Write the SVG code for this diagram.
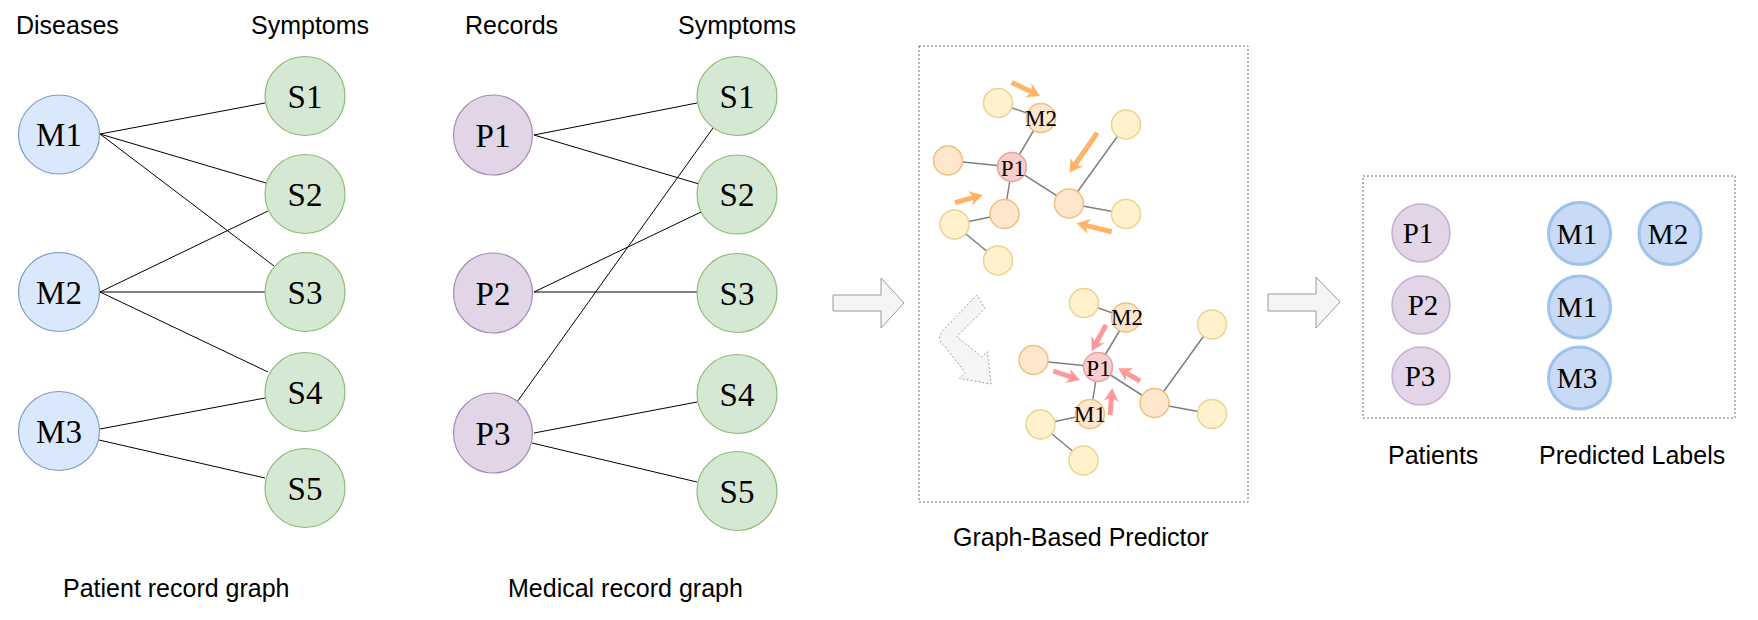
<svg xmlns="http://www.w3.org/2000/svg" width="1758" height="620" viewBox="0 0 1758 620">
<defs>
<style>
.sans{font-family:"Liberation Sans",Arial,sans-serif;font-size:25px;fill:#000}
.serif{font-family:"Liberation Serif","Times New Roman",serif;font-size:33px;text-anchor:middle;fill:#000}
.sm{font-family:"Liberation Serif","Times New Roman",serif;font-size:23px;text-anchor:middle;fill:#000}
.rt{font-family:"Liberation Serif","Times New Roman",serif;font-size:29px;text-anchor:middle;fill:#000}
.dis{fill:#DAE8FC;stroke:#7C9CCB;stroke-width:1.2}
.sym{fill:#D5E8D4;stroke:#8FBC73;stroke-width:1.2}
.rec{fill:#E1D5E7;stroke:#A88BB8;stroke-width:1.2}
.rp{fill:#E1D5E7;stroke:#C4AED1;stroke-width:1.5}
.rm{fill:#C8DAF5;stroke:#9EC3EA;stroke-width:3}
.edge{stroke:#000;stroke-width:1;fill:none}
.gedge{stroke:#808080;stroke-width:1.5;fill:none}
.yel{fill:#FFF2CC;stroke:#EBD391;stroke-width:1.5}
.org{fill:#FFE6CC;stroke:#EEC17E;stroke-width:1.5}
.pnk{fill:#F8CECC;stroke:#E3A5A3;stroke-width:1.5}
.box{fill:none;stroke:#6E6E6E;stroke-width:1;stroke-dasharray:2 2}
.blk{fill:#F5F5F5;stroke:#9A9A9A;stroke-width:1}
.blkd{fill:#F5F5F5;stroke:#A0A0A0;stroke-width:1;stroke-dasharray:2 2}
.oarr{stroke:#FFB366;stroke-width:5;fill:none;marker-end:url(#oh)}
.parr{stroke:#FF9999;stroke-width:5;fill:none;marker-end:url(#ph)}
</style>
<marker id="oh" viewBox="-5 -8 15 16" refX="0" refY="0" markerWidth="15" markerHeight="16" markerUnits="userSpaceOnUse" orient="auto">
<path d="M9,0 L-4,-7.5 L0,0 L-4,7.5 Z" fill="#FFB366"/>
</marker>
<marker id="ph" viewBox="-5 -8 15 16" refX="0" refY="0" markerWidth="15" markerHeight="16" markerUnits="userSpaceOnUse" orient="auto">
<path d="M9,0 L-4,-7.5 L0,0 L-4,7.5 Z" fill="#FF9999"/>
</marker>
</defs>
<rect width="1758" height="620" fill="#FFFFFF"/>

<!-- titles -->
<text class="sans" x="16" y="34">Diseases</text>
<text class="sans" x="251" y="34">Symptoms</text>
<text class="sans" x="465" y="34">Records</text>
<text class="sans" x="678" y="34">Symptoms</text>
<text class="sans" x="63" y="597">Patient record graph</text>
<text class="sans" x="508" y="597">Medical record graph</text>
<text class="sans" x="953" y="546">Graph-Based Predictor</text>
<text class="sans" x="1388" y="464">Patients</text>
<text class="sans" x="1539" y="464">Predicted Labels</text>

<!-- connectors -->
<g id="connectors">
<line class="edge" x1="100" y1="134" x2="265" y2="103"/>
<line class="edge" x1="100" y1="134" x2="266" y2="183"/>
<line class="edge" x1="100" y1="134" x2="274" y2="266"/>
<line class="edge" x1="100" y1="292" x2="268" y2="211"/>
<line class="edge" x1="100" y1="292" x2="265" y2="292"/>
<line class="edge" x1="100" y1="292" x2="268" y2="372"/>
<line class="edge" x1="100" y1="429" x2="265" y2="398"/>
<line class="edge" x1="99" y1="440" x2="265" y2="478"/>

<line class="edge" x1="534" y1="135" x2="697" y2="103"/>
<line class="edge" x1="534" y1="135" x2="699" y2="184"/>
<line class="edge" x1="713" y1="128" x2="517" y2="402"/>
<line class="edge" x1="534" y1="292" x2="701" y2="212"/>
<line class="edge" x1="534" y1="292" x2="697" y2="292"/>
<line class="edge" x1="534" y1="433" x2="697" y2="402"/>
<line class="edge" x1="532" y1="443" x2="697" y2="482"/>

<g id="top-graph-edges">
<line class="gedge" x1="998" y1="103" x2="1041" y2="118"/>
<line class="gedge" x1="1041" y1="118" x2="1012" y2="167"/>
<line class="gedge" x1="948" y1="160.5" x2="1012" y2="167"/>
<line class="gedge" x1="1012" y1="167" x2="1069" y2="203.5"/>
<line class="gedge" x1="1069" y1="203.5" x2="1126" y2="124.5"/>
<line class="gedge" x1="1069" y1="203.5" x2="1126" y2="214"/>
<line class="gedge" x1="1012" y1="167" x2="1004.5" y2="214"/>
<line class="gedge" x1="1004.5" y1="214" x2="954.5" y2="224.5"/>
<line class="gedge" x1="954.5" y1="224.5" x2="998" y2="260.5"/>
</g>
<g id="bottom-graph-edges" transform="translate(86,200)">
<line class="gedge" x1="998" y1="103" x2="1041" y2="118"/>
<line class="gedge" x1="1041" y1="118" x2="1012" y2="167"/>
<line class="gedge" x1="948" y1="160.5" x2="1012" y2="167"/>
<line class="gedge" x1="1012" y1="167" x2="1069" y2="203.5"/>
<line class="gedge" x1="1069" y1="203.5" x2="1126" y2="124.5"/>
<line class="gedge" x1="1069" y1="203.5" x2="1126" y2="214"/>
<line class="gedge" x1="1012" y1="167" x2="1004.5" y2="214"/>
<line class="gedge" x1="1004.5" y1="214" x2="954.5" y2="224.5"/>
<line class="gedge" x1="954.5" y1="224.5" x2="998" y2="260.5"/>
</g>

<!-- big flow arrows -->
<path id="arrow-1" class="blk" d="M833,295 L881,295 L881,278 L904,303 L881,328 L881,311 L833,311 Z"/>
<path id="arrow-2" class="blk" d="M1268,294 L1316,294 L1316,277 L1340,302 L1316,328 L1316,311 L1268,311 Z"/>
<path id="arrow-curve" class="blkd" d="M976.7,295 L943.3,330 Q935,338 945,346.7 L965,372.3 L959.3,378.3 L991,384 L987.3,351.7 L981.7,356.7 L956.7,336.7 L985,308.3 Z"/>

<!-- message arrows -->
<line class="oarr" x1="1011.7" y1="82.5" x2="1031.9" y2="92.1"/>
<line class="oarr" x1="1097.3" y1="132.7" x2="1074.6" y2="165.2"/>
<line class="oarr" x1="955" y1="202.7" x2="974" y2="197.4"/>
<line class="oarr" x1="1111.7" y1="231.7" x2="1085.4" y2="225.4"/>
<line class="parr" x1="1106" y1="325" x2="1096.0" y2="343.1"/>
<line class="parr" x1="1053.3" y1="371" x2="1071.5" y2="377.1"/>
<line class="parr" x1="1140" y1="381" x2="1126.1" y2="372.8"/>
<line class="parr" x1="1110" y1="415" x2="1111.5" y2="397.3"/>
</g>

<!-- boxes -->
<rect id="predictor-box" class="box" x="919" y="46" width="329" height="456"/>
<rect id="result-box" class="box" x="1363" y="176" width="372" height="242"/>

<!-- left graph nodes -->
<g id="node-M1"><ellipse class="dis" cx="59" cy="134.5" rx="40.5" ry="39.5"/><text class="serif" x="59" y="146">M1</text></g>
<g id="node-M2"><ellipse class="dis" cx="59" cy="292" rx="40.5" ry="39.5"/><text class="serif" x="59" y="303.5">M2</text></g>
<g id="node-M3"><ellipse class="dis" cx="59" cy="431" rx="40.5" ry="39.5"/><text class="serif" x="59" y="442.5">M3</text></g>
<g id="node-S1a"><ellipse class="sym" cx="305" cy="96" rx="40" ry="39.5"/><text class="serif" x="305" y="107.5">S1</text></g>
<g id="node-S2a"><ellipse class="sym" cx="305" cy="194" rx="40" ry="39.5"/><text class="serif" x="305" y="205.5">S2</text></g>
<g id="node-S3a"><ellipse class="sym" cx="305" cy="292" rx="40" ry="39.5"/><text class="serif" x="305" y="303.5">S3</text></g>
<g id="node-S4a"><ellipse class="sym" cx="305" cy="392" rx="40" ry="39.5"/><text class="serif" x="305" y="403.5">S4</text></g>
<g id="node-S5a"><ellipse class="sym" cx="305" cy="488" rx="40" ry="39.5"/><text class="serif" x="305" y="499.5">S5</text></g>

<!-- middle graph nodes -->
<g id="node-P1"><ellipse class="rec" cx="493" cy="135" rx="39.5" ry="40"/><text class="serif" x="493" y="146.5">P1</text></g>
<g id="node-P2"><ellipse class="rec" cx="493" cy="293" rx="39.5" ry="40"/><text class="serif" x="493" y="304.5">P2</text></g>
<g id="node-P3"><ellipse class="rec" cx="493" cy="433" rx="39.5" ry="40"/><text class="serif" x="493" y="444.5">P3</text></g>
<g id="node-S1b"><ellipse class="sym" cx="737" cy="96" rx="40" ry="39.5"/><text class="serif" x="737" y="107.5">S1</text></g>
<g id="node-S2b"><ellipse class="sym" cx="737" cy="194.5" rx="40" ry="39.5"/><text class="serif" x="737" y="206">S2</text></g>
<g id="node-S3b"><ellipse class="sym" cx="737" cy="293" rx="40" ry="39.5"/><text class="serif" x="737" y="304.5">S3</text></g>
<g id="node-S4b"><ellipse class="sym" cx="737" cy="394" rx="40" ry="39.5"/><text class="serif" x="737" y="405.5">S4</text></g>
<g id="node-S5b"><ellipse class="sym" cx="737" cy="491" rx="40" ry="39.5"/><text class="serif" x="737" y="502.5">S5</text></g>

<!-- predictor top graph -->
<g id="top-graph">
<g id="t-a"><circle class="yel" cx="998" cy="103" r="14.5"/></g>
<g id="t-m2"><circle class="org" cx="1041" cy="118" r="14.5"/><text class="sm" x="1041" y="126">M2</text></g>
<g id="t-tr"><circle class="yel" cx="1126" cy="124.5" r="14.5"/></g>
<g id="t-l"><circle class="org" cx="948" cy="160.5" r="14.5"/></g>
<g id="t-p1"><circle class="pnk" cx="1012" cy="167" r="14.5"/><text class="sm" x="1013" y="175.5">P1</text></g>
<g id="t-cr"><circle class="org" cx="1069" cy="203.5" r="14.5"/></g>
<g id="t-r"><circle class="yel" cx="1126" cy="214" r="14.5"/></g>
<g id="t-b"><circle class="org" cx="1004.5" cy="214" r="14.5"/></g>
<g id="t-bl"><circle class="yel" cx="954.5" cy="224.5" r="14.5"/></g>
<g id="t-bb"><circle class="yel" cx="998" cy="260.5" r="14.5"/></g>
</g>

<!-- predictor bottom graph -->
<g id="bottom-graph" transform="translate(86,200)">
<g id="b-a"><circle class="yel" cx="998" cy="103" r="14.5"/></g>
<g id="b-m2"><circle class="org" cx="1040" cy="117.5" r="14.5"/><text class="sm" x="1041" y="125">M2</text></g>
<g id="b-tr"><circle class="yel" cx="1126" cy="124.5" r="14.5"/></g>
<g id="b-l"><circle class="org" cx="947.5" cy="160" r="14.5"/></g>
<g id="b-p1"><circle class="pnk" cx="1012" cy="167" r="14.5"/><text class="sm" x="1012.5" y="175.5">P1</text></g>
<g id="b-cr"><circle class="org" cx="1068.5" cy="203" r="14.5"/></g>
<g id="b-r"><circle class="yel" cx="1126" cy="214" r="14.5"/></g>
<g id="b-m1"><circle class="org" cx="1004" cy="214" r="14.5"/><text class="sm" x="1004" y="222">M1</text></g>
<g id="b-bl"><circle class="yel" cx="954.5" cy="224.5" r="14.5"/></g>
<g id="b-bb"><circle class="yel" cx="997.5" cy="260.5" r="14.5"/></g>
</g>

<!-- result nodes -->
<g id="r-P1"><circle class="rp" cx="1421" cy="233" r="29"/><text class="rt" x="1418" y="243">P1</text></g>
<g id="r-P2"><circle class="rp" cx="1421" cy="305" r="29"/><text class="rt" x="1423" y="315">P2</text></g>
<g id="r-P3"><circle class="rp" cx="1421" cy="376" r="29"/><text class="rt" x="1420" y="386">P3</text></g>
<g id="r-M1a"><circle class="rm" cx="1579.5" cy="233.5" r="31"/><text class="rt" x="1577" y="243.5">M1</text></g>
<g id="r-M2"><circle class="rm" cx="1670" cy="233.5" r="31"/><text class="rt" x="1668" y="243.5">M2</text></g>
<g id="r-M1b"><circle class="rm" cx="1579.5" cy="307" r="31"/><text class="rt" x="1577" y="317">M1</text></g>
<g id="r-M3"><circle class="rm" cx="1579.5" cy="378" r="31"/><text class="rt" x="1577" y="388">M3</text></g>
</svg>
